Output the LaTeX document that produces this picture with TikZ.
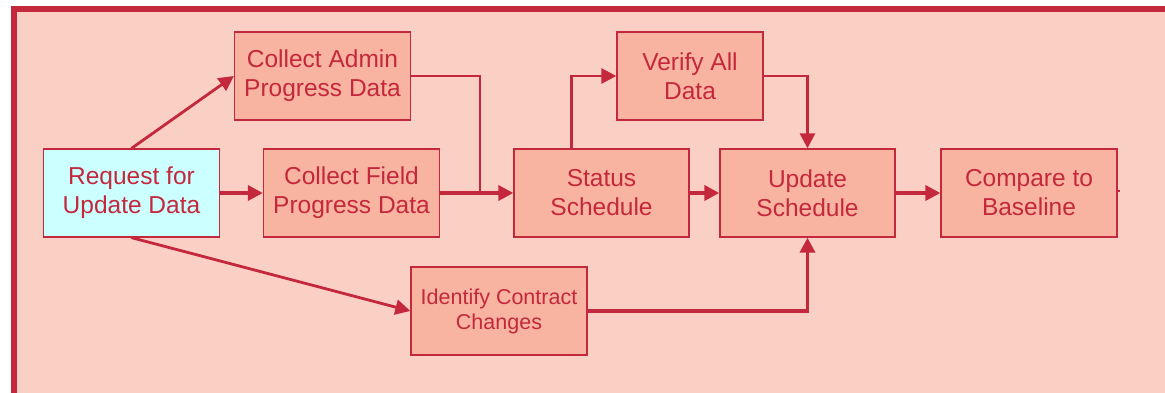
\documentclass[tikz,border=0pt]{standalone}
\usepackage{fontspec}
\setmainfont{Liberation Sans}
\usetikzlibrary{arrows.meta,calc}
\definecolor{cred}{HTML}{C4283C}
\definecolor{cbg}{HTML}{FBD0C4}
\definecolor{cbox}{HTML}{F8B4A0}
\definecolor{ccyan}{HTML}{CCFFFF}
\begin{document}
\begin{tikzpicture}[x=1pt,y=-1pt,
  box/.style={draw=cred, line width=1.3pt, fill=cbox, text=cred, align=center,
    minimum width=176pt, minimum height=88pt, inner sep=0pt,
    font=\fontsize{24.5}{29}\selectfont},
  conn/.style={draw=cred, line width=2.8pt, -{Triangle[length=15pt,width=15pt]}},
  connthick/.style={conn, line width=3.6pt},
  plain/.style={draw=cred, line width=2.8pt}
]
\fill[white] (0,0) rectangle (1165,393);
\clip (0,0) rectangle (1165,393);
\draw[cred, line width=6pt, fill=cbg] (14,9.5) rectangle (1200,420);

\node[box, fill=ccyan] (req) at (131.5,193) {Request for\\Update Data};
\node[box] (admin) at (322.5,76) {Collect Admin\\Progress Data};
\node[box] (field) at (351.5,193) {Collect Field\\Progress Data};
\node[box, minimum width=175pt] (status) at (601.5,193) {Status\\Schedule};
\node[box, minimum width=146pt] (verify) at (690,76) {Verify All\\Data};
\node[box, minimum width=175pt] (update) at (807.5,193) {Update\\Schedule};
\node[box] (compare) at (1029,193) {Compare to\\Baseline};
\node[box, font=\fontsize{21.5}{25}\selectfont] (ident) at (499,311) {Identify Contract\\Changes};

\coordinate (jn) at (480,193);
\coordinate (sv) at ($(status.north west)+(58,0)$);

\draw[conn] (req.north) -- (admin.west);
\draw[conn] (req.south) -- (ident.west);
\draw[connthick] (req.east) -- (field.west);
\draw[plain] (admin.east) -| (jn);
\draw[connthick] (field.east) -- (status.west);
\draw[conn] (sv) |- (verify.west);
\draw[conn] (verify.east) -| (update.north);
\draw[connthick] (status.east) -- (update.west);
\draw[connthick] (update.east) -- (compare.west);
\draw[connthick] (ident.east) -| (update.south);
\draw[cred, line width=2pt] ($(compare.east)+(0,-2)$) -- ++(2.5,0);
\end{tikzpicture}
\end{document}
